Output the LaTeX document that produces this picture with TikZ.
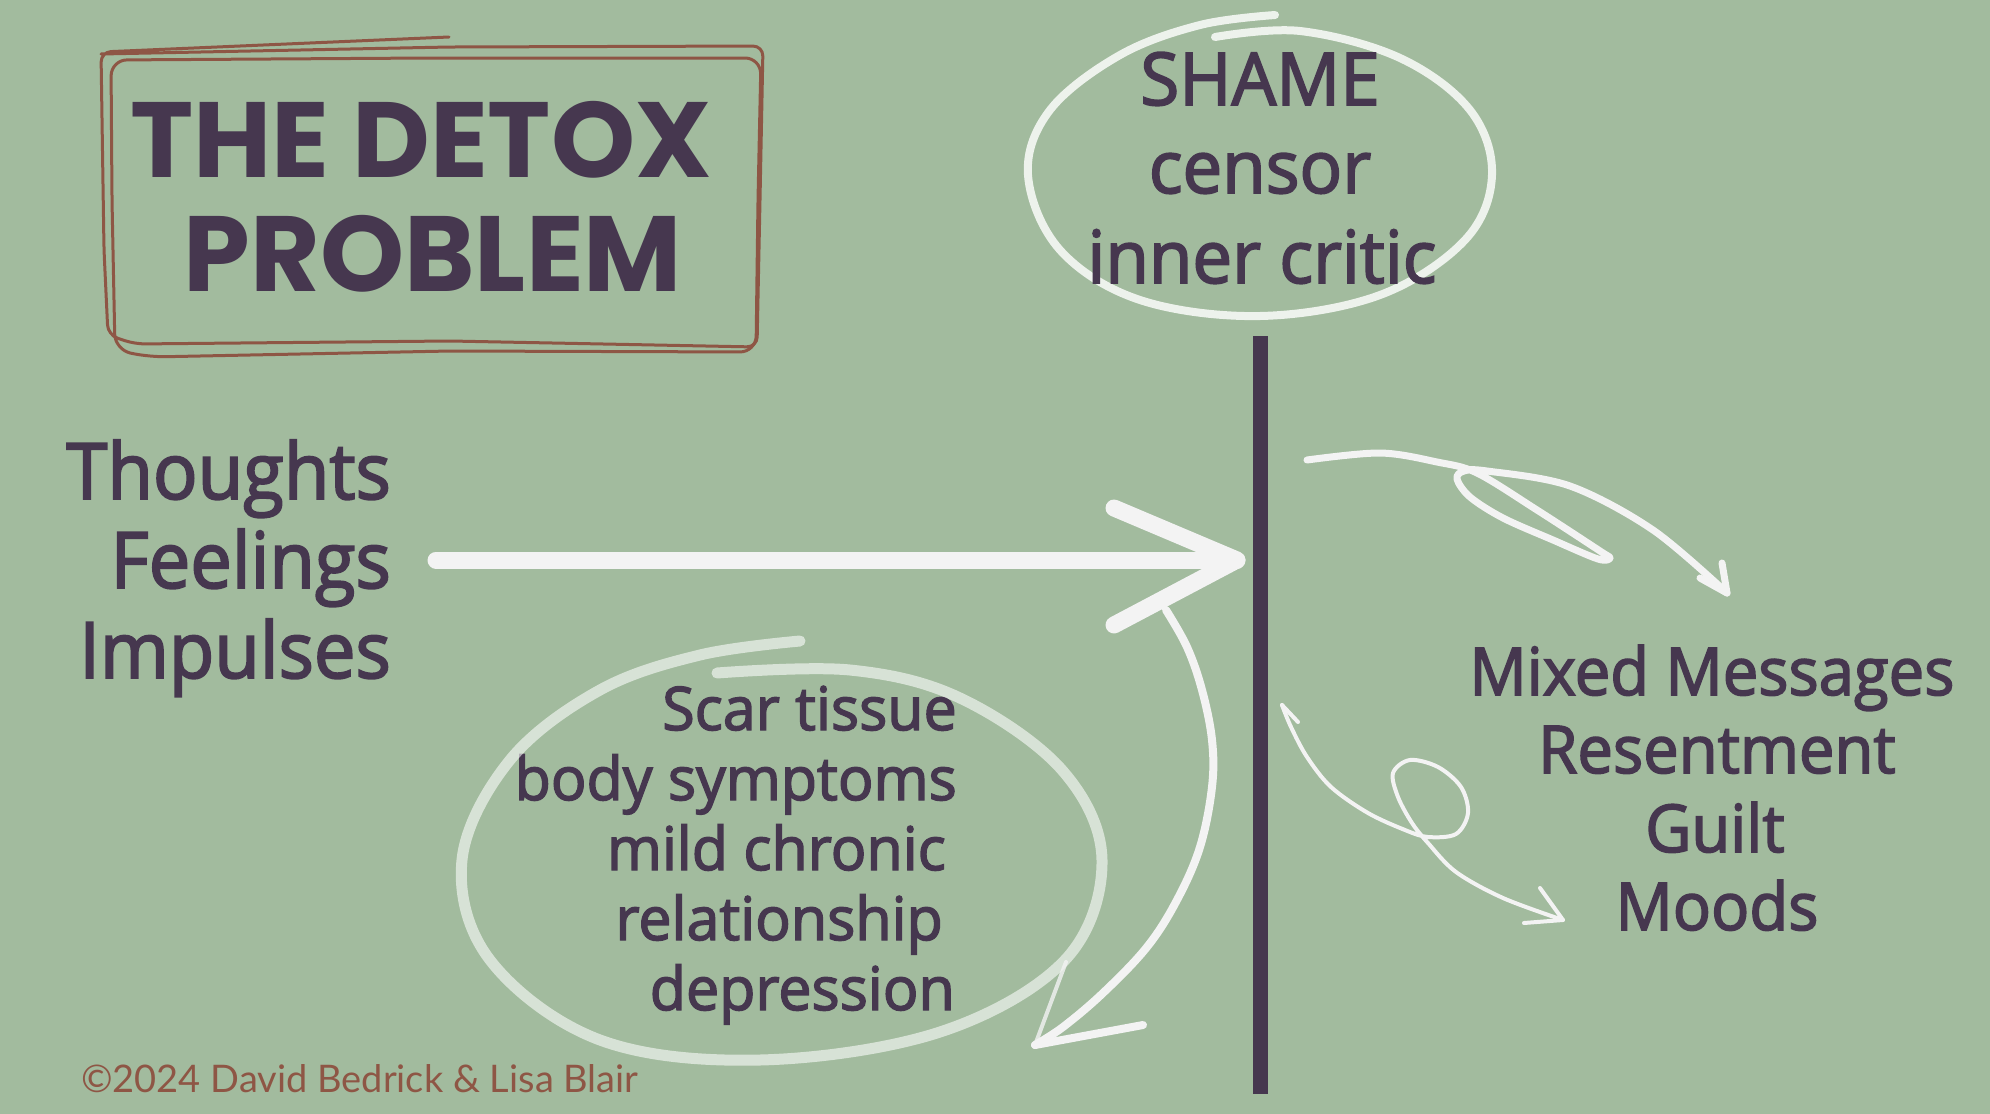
\documentclass[tikz,border=0pt]{standalone}
\usepackage{fontspec}
\newfontfamily\leftfont{Open Sans}[FakeBold=2.4,FakeStretch=0.95]
\newfontfamily\shamefont{Open Sans}[FakeBold=2.4,FakeStretch=0.97]
\newfontfamily\scarfont{Open Sans}[FakeBold=2.4,FakeStretch=0.985]
\newfontfamily\rightfont{Open Sans}[FakeBold=2.4,FakeStretch=0.96]
\newfontfamily\titlefont{Poppins}
\newfontfamily\copyfont{Lato}
\definecolor{bg}{HTML}{A2BB9E}
\definecolor{ink}{HTML}{46374F}
\definecolor{brick}{HTML}{8E5645}
\definecolor{chalk}{HTML}{F3F3F3}
\definecolor{halo}{HTML}{EDF2EC}
\tikzset{
  lefttxt/.style={inner sep=0, text=ink, font=\leftfont\fontsize{78}{90}\selectfont, anchor=base east},
  shametxt/.style={inner sep=0, text=ink, font=\shamefont\fontsize{73}{88}\selectfont, anchor=base},
  scartxt/.style={inner sep=0, text=ink, font=\scarfont\fontsize{60}{70}\selectfont, anchor=base east},
  righttxt/.style={inner sep=0, text=ink, font=\rightfont\fontsize{66}{79}\selectfont, anchor=base},
  titletxt/.style={inner sep=0, text=ink, font=\titlefont\bfseries\fontsize{107}{120}\selectfont, anchor=base},
  copytxt/.style={inner sep=0, text=brick, font=\copyfont\fontsize{38}{42}\selectfont, anchor=base west},
  boxline/.style={draw=brick, line width=3, line cap=round, line join=round},
  chalkline/.style={draw=chalk, line cap=round, line join=round},
  haloline/.style={draw=halo, line width=8, line cap=round, line join=round},
  mistline/.style={draw=white, draw opacity=0.58, line width=11, line cap=round, line join=round},
  barline/.style={draw=ink, line width=15},
}
\begin{document}
\begin{tikzpicture}[x=1pt,y=-1pt]
\fill[bg] (0,0) rectangle (1990,1114);
\useasboundingbox (0,0) rectangle (1990,1114);

% title box
\draw[boxline, rounded corners=10] (449,37) -- (101,52) -- (104,250) -- (108,335) -- (135,344) -- (450,341) -- (757,347) -- (760,200) -- (763,46) -- (450,47) -- (101,54);
\draw[boxline, rounded corners=16] (430,58) -- (761,58) -- (758,200) -- (756,352) -- (450,351) -- (150,357) -- (115,350) -- (112,200) -- (111,60) -- cycle;
\node[titletxt] (title1) at (421,177) {THE DETOX};
\node[titletxt] (title2) at (433,291) {PROBLEM};

% shame ellipse
\draw[haloline] plot[smooth, tension=0.6] coordinates {(1215,37) (1300,31) (1400,58) (1470,110) (1492,175) (1465,240) (1380,295) (1260,316) (1140,300) (1060,250) (1028,175) (1050,110) (1120,55) (1200,25) (1275,15)};
\node[shametxt] (s1) at (1260,105) {SHAME};
\node[shametxt] (s2) at (1260,193) {censor};
\node[shametxt] (s3) at (1262,283) {inner critic};

% barrier
\coordinate (bartop) at (1260,336);
\coordinate (barbot) at (1260,1094);
\draw[barline] (bartop) -- (barbot);

% left text
\node[lefttxt] (t1) at (391,499) {Thoughts};
\node[lefttxt] (t2) at (391,588) {Feelings};
\node[lefttxt] (t3) at (391,678) {Impulses};

% main arrow
\coordinate (mainstart) at (436,560);
\coordinate (maintip) at (1237,560);
\draw[chalkline, line width=17] (mainstart) -- (maintip);
\draw[chalkline, line width=17] (1114,508) -- (maintip) -- (1114,625);

% scar text
\node[scartxt] (c1) at (957,730) {Scar tissue};
\node[scartxt] (c2) at (957,800) {body symptoms};
\node[scartxt] (c3) at (946,870) {mild chronic};
\node[scartxt] (c4) at (943,940) {relationship};
\node[scartxt] (c5) at (955,1010) {depression};

% scar ellipse (translucent, over text)
\draw[mistline] plot[smooth, tension=0.6] coordinates {(800,641) (700,655) (600,690) (510,760) (462,860) (490,960) (600,1040) (760,1060) (940,1032) (1065,960) (1102,860) (1062,770) (960,698) (850,670) (717,673)};

% brush arrow back down-left
\coordinate (brushstart) at (1166,610);
\coordinate (brushtip) at (1035,1045);
\draw[chalkline, line width=8] plot[smooth, tension=0.6] coordinates {(brushstart) (1187,647) (1202,690) (1212,740) (1212,787) (1200,847) (1177,900) (1147,947) (1103,993) (1063,1027) (brushtip)};
\draw[chalkline, line width=8] (1143,1025) -- (brushtip);
\draw[chalkline, line width=4, draw opacity=0.8] (brushtip) -- (1066,962);

% arrow to upper right
\coordinate (ur0) at (1307,460);
\coordinate (urtip) at (1727,593);
\draw[chalkline, line width=7] plot[smooth, tension=0.55] coordinates {(ur0) (1380,453) (1437,462) (1477,473) (1537,510) (1600,551) (1610,558) (1598,559) (1553,540) (1503,518) (1470,497) (1457,479) (1464,471) (1487,471) (1570,486) (1653,530) (urtip)};
\draw[chalkline, line width=7] (1722,563) -- (urtip) -- (1700,578);

% arrow to lower right
\coordinate (lr0) at (1282,705);
\coordinate (lrtip) at (1563,920);
\draw[chalkline, line width=4] plot[smooth, tension=0.55] coordinates {(lr0) (1291,727) (1307,757) (1331,787) (1368,813) (1405,830) (1428,837) (1456,834) (1468,813) (1461,787) (1438,767) (1410,760) (1393,773) (1398,797) (1412,823) (1428,843) (1456,872) (1503,898) (lrtip)};
\draw[chalkline, line width=4] (lr0) -- (1298,722);
\draw[chalkline, line width=4] (1540,888) -- (lrtip) -- (1524,923);

% right text
\node[righttxt] (m1) at (1712,695) {Mixed Messages};
\node[righttxt] (m2) at (1717,773) {Resentment};
\node[righttxt] (m3) at (1715,852) {Guilt};
\node[righttxt] (m4) at (1717,930) {Moods};

% copyright
\node[copytxt] (copy) at (81,1092) {©2024 David Bedrick \& Lisa Blair};
\end{tikzpicture}
\end{document}
